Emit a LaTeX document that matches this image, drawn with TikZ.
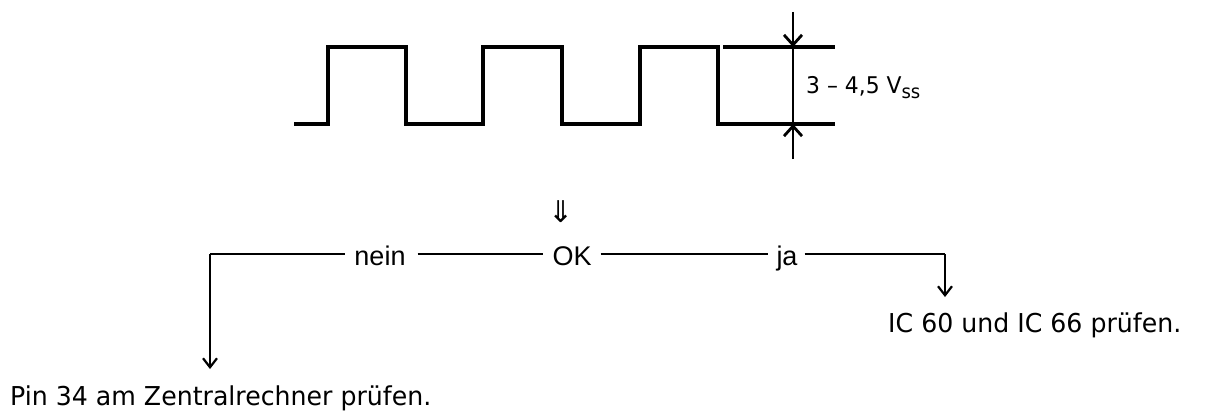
\documentclass[tikz,border=0pt]{standalone}
\usepackage{fontspec}
\setmainfont{Liberation Sans}
\newfontfamily\tah{DejaVu Sans}[FakeStretch=0.97]
\newfontfamily\dimf{DejaVu Sans}[FakeStretch=0.95]
\newfontfamily\sym{DejaVu Sans}
\usetikzlibrary{arrows.meta}
\begin{document}
\begin{tikzpicture}[x=1pt,y=-1pt,
  wave/.style={line width=3.2pt,line join=miter},
  flow/.style={line width=2.2pt},
  arr/.style={line width=2.2pt,-{Straight Barb[length=9pt,width=14pt,line width=2.2pt]}},
  dimarr/.style={line width=2.8pt,-{Straight Barb[length=10pt,width=18pt,line width=2.8pt]}},
  lbl/.style={inner sep=0pt,anchor=base,font=\fontsize{27}{30}\selectfont},
  txt/.style={inner sep=0pt,font=\tah\fontsize{26}{30}\selectfont},
  dimtxt/.style={inner sep=0pt,font=\dimf\fontsize{23}{26}\selectfont}]
\useasboundingbox (0,0) rectangle (1209,417);
% square wave
\draw[wave] (294,124) -- (328,124) -- (328,47) -- (406,47) -- (406,124) -- (483,124)
  -- (483,47) -- (562,47) -- (562,124) -- (640,124) -- (640,47) -- (718,47) -- (718,124) -- (835,124);
\draw[wave] (723,47) -- (835,47);
% dimension
\coordinate (dtop) at (793,47);
\coordinate (dbot) at (793,124);
\coordinate (dtopS) at (793,12);
\coordinate (dbotS) at (793,159);
\draw[dimarr] (dtopS) -- (dtop);
\draw[dimarr] (dbotS) -- (dbot);
\draw[line width=2.8pt] (dtop) -- (dbot);
\node[dimtxt,anchor=west] (vss) at (806,88) {3 – 4,5 V\raisebox{-5pt}{\fontsize{19}{20}\selectfont ss}};
% decision
\node[inner sep=0pt,font=\sym\fontsize{30}{32}\selectfont] (down) at (561,212) {⇓};
\node[lbl] (nein) at (380,265) {nein};
\node[lbl] (ok) at (572,265) {OK};
\node[lbl] (ja) at (787,265) {ja};
\coordinate (cL) at (210,254);
\coordinate (cR) at (945,254);
\node[txt,anchor=base west] (pin) at (10,405) {Pin 34 am Zentralrechner prüfen.};
\node[txt,anchor=base west] (ic) at (888,332) {IC 60 und IC 66 prüfen.};
\draw[flow] (cL) -- ([xshift=-9pt]cL -| nein.west);
\draw[flow] ([xshift=12pt]cL -| nein.east) -- ([xshift=-9pt]cL -| ok.west);
\draw[flow] ([xshift=9pt]cL -| ok.east) -- ([xshift=-8pt]cL -| ja.west);
\draw[flow] ([xshift=7pt]cL -| ja.east) -- (cR);
\draw[arr,shorten >=16pt] (cL) -- (cL |- pin.north);
\draw[arr,shorten >=15pt] (cR) -- (cR |- ic.north);
\end{tikzpicture}
\end{document}
